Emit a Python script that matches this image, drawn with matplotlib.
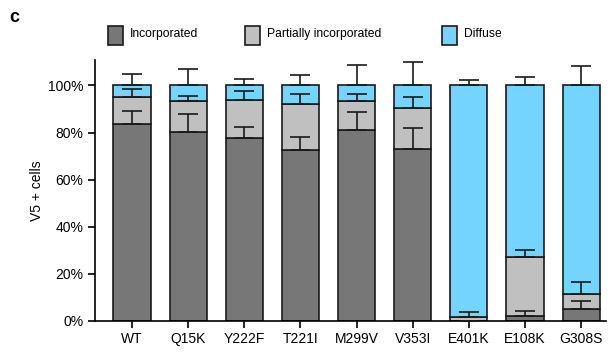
import matplotlib
matplotlib.use("Agg")
import matplotlib.pyplot as plt
from matplotlib.patches import Rectangle
import numpy as np

plt.rcParams['font.family'] = ['Liberation Sans', 'DejaVu Sans']

# Data (percent of V5+ cells)
mutants = ['WT', 'Q15K', 'Y222F', 'T221I', 'M299V', 'V353I', 'E401K', 'E108K', 'G308S']
incorporated = [83.6, 80.4, 77.6, 72.5, 81.0, 73.2, 0.0, 2.1, 4.8]
partial = [11.3, 13.1, 16.2, 19.6, 12.6, 17.2, 1.4, 25.0, 6.4]
diffuse = [5.1, 6.5, 6.2, 7.9, 6.4, 9.6, 98.6, 72.9, 88.8]

incorporated_err = [5.6, 7.4, 4.8, 5.7, 7.9, 8.8, 0.0, 2.0, 3.5]
partial_err = [3.7, 2.2, 3.9, 4.1, 2.6, 4.9, 2.3, 3.1, 5.4]
diffuse_err = [5.0, 6.8, 2.9, 4.3, 8.8, 10.1, 2.4, 3.8, 8.3]

legend_labels = ['Incorporated', 'Partially incorporated', 'Diffuse']
colors = ['#777777', '#c0c0c0', '#75d4fe']

fig = plt.figure(figsize=(6.11, 3.52), dpi=100)
ax = fig.add_axes([0.155, 0.089, 0.836, 0.741])

x = np.arange(len(mutants))
width = 0.66
inc = np.array(incorporated)
par = np.array(partial)
dif = np.array(diffuse)

segments = [(inc, 0, incorporated_err), (par, inc, partial_err), (dif, inc + par, diffuse_err)]
for (vals, bottom, err), c in zip(segments, colors):
    ax.bar(x, vals, width, bottom=bottom, color=c, edgecolor='#1a1a1a', linewidth=1.2, zorder=2)
    tops = vals + bottom
    # one-sided (upward) error bars like Prism
    ax.errorbar(x, tops, yerr=[np.zeros(len(x)), err], fmt='none', ecolor='#1a1a1a',
                elinewidth=1.2, capsize=7, capthick=1.2, zorder=3)

ax.set_xlim(-0.664, 8.434)
ax.set_ylim(0, 110.9)
ax.set_xticks(x)
ax.set_xticklabels(mutants, fontsize=10)
ax.set_yticks([0, 20, 40, 60, 80, 100])
ax.set_yticklabels(['0%', '20%', '40%', '60%', '80%', '100%'], fontsize=10)
ax.set_ylabel('V5 + cells', fontsize=10, labelpad=3)
ax.spines['top'].set_visible(False)
ax.spines['right'].set_visible(False)
ax.spines['left'].set_linewidth(1.2)
ax.spines['bottom'].set_linewidth(1.2)
ax.tick_params(axis='both', width=1.2, length=5, direction='out', pad=3)

# legend drawn by hand along the top
W, H = 611, 352
patch_x = [108, 245, 442]
for px, c, lab in zip(patch_x, colors, legend_labels):
    fig.add_artist(Rectangle((px / W, 1 - 45 / H), 15 / W, 19 / H, transform=fig.transFigure,
                             facecolor=c, edgecolor='#1a1a1a', linewidth=1.2))
    fig.text((px + 22) / W, 1 - 34 / H, lab, fontsize=8.7, va='center', ha='left')

fig.text(9 / W, 1 - 18 / H, 'c', fontsize=13, fontweight='bold', va='center', ha='left')

fig.savefig('out.png', dpi=100)
